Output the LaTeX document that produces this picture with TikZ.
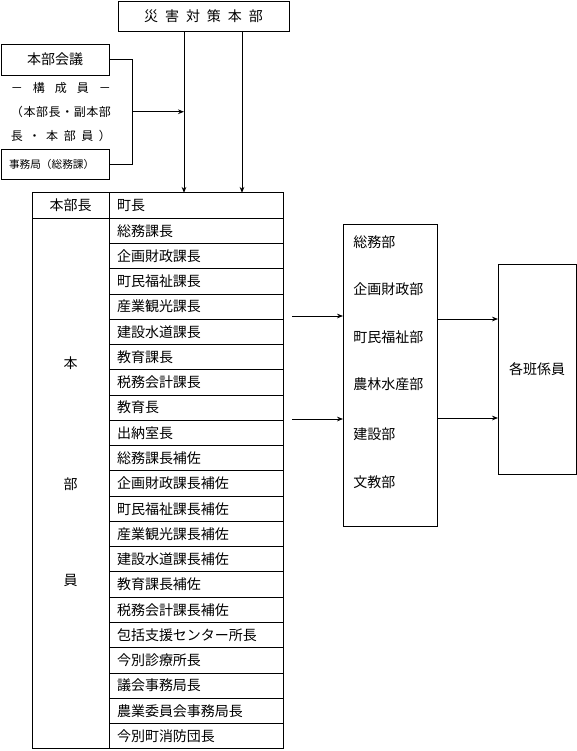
\documentclass[tikz,border=0pt]{standalone}
\usepackage{fontspec}
\setmainfont[Kerning=Off]{Noto Sans CJK JP}
\usetikzlibrary{arrows.meta,positioning,calc}
\newcommand{\ksp}{\hspace{5.2pt}}
\tikzset{frame/.style={rectangle,draw=black,line width=0.6pt,inner sep=0pt,outer sep=0pt,align=center},cell/.style={frame,minimum width=130.5pt,minimum height=18.95pt,text width=118.5pt,inner xsep=6pt,align=left},hcell/.style={frame,minimum width=57.75pt,minimum height=18.95pt},member/.style={inner sep=0pt,font=\fontsize{9}{10}\selectfont},dept/.style={anchor=west,inner sep=0pt},link/.style={draw=black,line width=0.6pt},arr/.style={draw=black,line width=0.6pt,-{Stealth[length=4.5pt,width=3.5pt]}}}

\begin{document}
\begin{tikzpicture}[x=0.75pt,y=-0.75pt,font=\fontsize{10.5}{12}\selectfont]
\useasboundingbox (0,0) rectangle (577,751);
\node[frame,minimum width=128.25pt,minimum height=22.5pt] (hq) at (203.5,16) {災\ksp 害\ksp 対\ksp 策\ksp 本\ksp 部};
\node[frame,minimum width=81pt,minimum height=23.25pt] (kaigi) at (55,59.5) {本部会議};
\node[member] (mem1) at (61,88) {\makebox[75pt][s]{－\hfil 構\hfil 成\hfil 員\hfil －}};
\node[member] (mem2) at (61,112) {\makebox[75pt][s]{（\hfil 本\hfil 部\hfil 長\hfil ・\hfil 副\hfil 本\hfil 部}};
\node[member] (mem3) at (61,136) {\makebox[75pt][s]{長\hfil ・\hfil 本\hfil 部\hfil 員\hfil ）}};
\node[frame,minimum width=81pt,minimum height=22.5pt,text width=69pt,inner xsep=6pt,align=left,font=\fontsize{8}{9}\selectfont] (jimu) at (55,164) {事務局（総務課）};
% table of members
\node[hcell] (hd1) at (70.5,205.5) {本部長};\node[cell] (hd2) at (196,205.5) {町長};
\node[hcell,below=0pt of hd1,minimum height=397.95pt] (hin) {};
\node (k1) at (70.5,363) {本};\node (k2) at (70.5,484) {部};\node (k3) at (70.5,580) {員};
\node[cell,below=0pt of hd2] (r1) {総務課長};\node[cell,below=0pt of r1] (r2) {企画財政課長};\node[cell,below=0pt of r2] (r3) {町民福祉課長};
\node[cell,below=0pt of r3] (r4) {産業観光課長};\node[cell,below=0pt of r4] (r5) {建設水道課長};\node[cell,below=0pt of r5] (r6) {教育課長};
\node[cell,below=0pt of r6] (r7) {税務会計課長};\node[cell,below=0pt of r7] (r8) {教育長};\node[cell,below=0pt of r8] (r9) {出納室長};
\node[cell,below=0pt of r9] (r10) {総務課長補佐};\node[cell,below=0pt of r10] (r11) {企画財政課長補佐};\node[cell,below=0pt of r11] (r12) {町民福祉課長補佐};
\node[cell,below=0pt of r12] (r13) {産業観光課長補佐};\node[cell,below=0pt of r13] (r14) {建設水道課長補佐};\node[cell,below=0pt of r14] (r15) {教育課長補佐};
\node[cell,below=0pt of r15] (r16) {税務会計課長補佐};\node[cell,below=0pt of r16] (r17) {包括支援センター所長};\node[cell,below=0pt of r17] (r18) {今別診療所長};
\node[cell,below=0pt of r18] (r19) {議会事務局長};\node[cell,below=0pt of r19] (r20) {農業委員会事務局長};\node[cell,below=0pt of r20] (r21) {今別町消防団長};
% departments
\node[frame,minimum width=70.5pt,minimum height=226.5pt] (mid) at (390,375) {};
\node[dept] (bu1) at (353,242) {総務部};\node[dept] (bu2) at (353,289) {企画財政部};\node[dept] (bu3) at (353,337) {町民福祉部};
\node[dept] (bu4) at (353,384) {農林水産部};\node[dept] (bu5) at (353,434) {建設部};\node[dept] (bu6) at (353,482) {文教部};
\node[frame,minimum width=58.5pt,minimum height=157.5pt] (grp) at (537,369) {各班係員};
% connectors
\coordinate (dnL) at ($(hq.south)+(-19.5,0)$);\coordinate (dnR) at ($(hq.south)+(38.5,0)$);
\draw[arr] (dnL) -- (dnL |- hd2.north);\draw[arr] (dnR) -- (dnR |- hd2.north);
\draw[link] (kaigi.east) -- ++(23,0) |- (jimu.east);
\coordinate (brk) at ($(kaigi.east)!0.5!(jimu.east)+(23,0)$);
\draw[arr] (brk) -- (brk -| dnL);
\coordinate (outA) at (292,316);\coordinate (outB) at (292,419);
\draw[arr] (outA) -- (outA -| mid.west);\draw[arr] (outB) -- (outB -| mid.west);
\coordinate (mA) at ([yshift=42pt]mid.east);\coordinate (mB) at ([yshift=-32.25pt]mid.east);
\draw[arr] (mA) -- (mA -| grp.west);\draw[arr] (mB) -- (mB -| grp.west);
\end{tikzpicture}
\end{document}
